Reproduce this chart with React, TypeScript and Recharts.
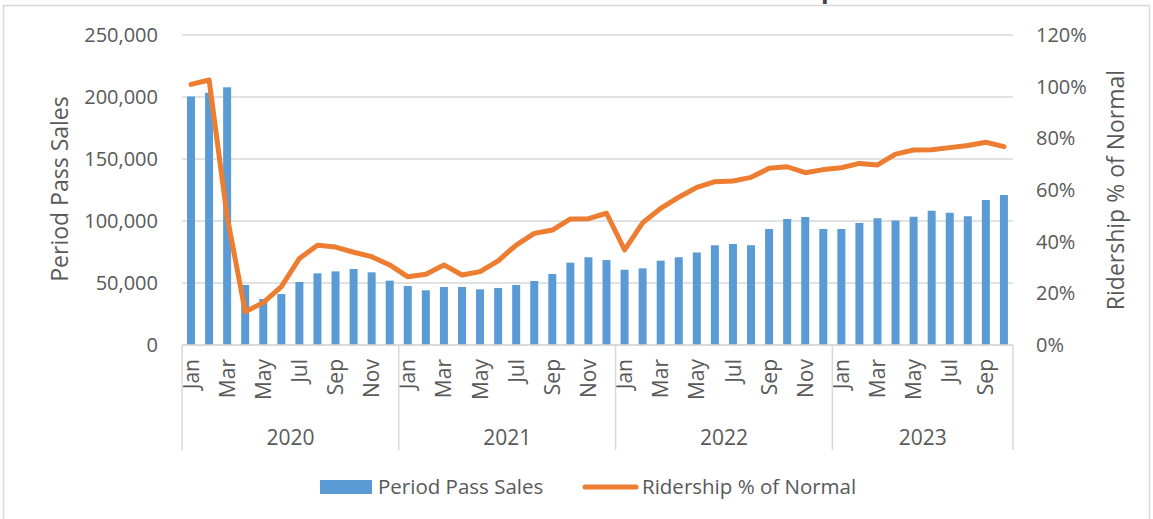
import React from "react"
import { Bar, CartesianGrid, ComposedChart, Line, XAxis, YAxis } from "recharts"

const years = [2020, 2021, 2022, 2023]
const monthsPerYear = [12, 12, 12, 10]
const monthNames = ["Jan", "Feb", "Mar", "Apr", "May", "Jun", "Jul", "Aug", "Sep", "Oct", "Nov", "Dec"]

const periodPassSales = [
  200500, 203500, 207800, 48400, 37100, 41100, 50800, 57800, 59400, 61300, 58600, 51900,
  47600, 44100, 46800, 46800, 44900, 46000, 48400, 51600, 57300, 66400, 70700, 68500,
  60700, 61800, 68000, 70700, 74500, 80400, 81500, 80400, 93500, 101600, 103200, 93500,
  93500, 98400, 102200, 100500, 103500, 108300, 106700, 103800, 116900, 121000,
]

const ridershipPct = [
  100.9, 102.6, 49.7, 12.9, 16.4, 22.6, 33.5, 38.6, 37.9, 35.9, 34.2, 31.0,
  26.4, 27.4, 31.0, 27.1, 28.4, 32.6, 38.7, 43.2, 44.5, 48.8, 48.9, 51.0,
  36.8, 47.3, 52.9, 57.2, 61.0, 63.2, 63.5, 64.9, 68.4, 69.0, 66.7, 67.9,
  68.6, 70.3, 69.7, 73.9, 75.5, 75.6, 76.4, 77.2, 78.5, 76.8,
]

const salesTicks = [0, 50000, 100000, 150000, 200000, 250000]
const pctTicks = [0, 20, 40, 60, 80, 100, 120]

// build the month/year rows
const monthLabels: string[] = []
const yearOfMonth: number[] = []
const yearStart: number[] = []
years.forEach((y, yi) => {
  yearStart.push(monthLabels.length)
  for (let m = 0; m < monthsPerYear[yi]; m++) {
    monthLabels.push(monthNames[m])
    yearOfMonth.push(yi)
  }
})

const data = periodPassSales.map((v, i) => ({
  key: `${years[yearOfMonth[i]]}-${monthLabels[i]}`,
  sales: v,
  ridership: ridershipPct[i],
}))

const W = 1153
const H = 519
const PLOT_LEFT = 182
const PLOT_RIGHT = 1013
const PLOT_TOP = 35
const PLOT_BOTTOM = 345
const BAND = (PLOT_RIGHT - PLOT_LEFT) / data.length

const TEXT = "#595959"
const GRID = "#D9D9D9"
const FONT = "'Open Sans', sans-serif"

const fmt = (v: number) => v.toLocaleString("en-US")

const CategoryTick = (props: any) => {
  const { x, index } = props
  const yi = yearOfMonth[index]
  const first = yearStart[yi] === index
  const last = index === data.length - 1
  const ty = PLOT_BOTTOM + 14
  return (
    <g>
      {index % 2 === 0 && (
        <text
          x={x}
          y={ty}
          dy="0.36em"
          transform={`rotate(-90 ${x} ${ty})`}
          textAnchor="end"
          fill={TEXT}
          fontSize={21}
          fontFamily={FONT}
        >
          {monthLabels[index]}
        </text>
      )}
      {first && (
        <>
          <line x1={x - BAND / 2} x2={x - BAND / 2} y1={PLOT_BOTTOM} y2={450} stroke={GRID} strokeWidth={1.5} />
          <text
            x={x - BAND / 2 + (monthsPerYear[yi] * BAND) / 2}
            y={445}
            textAnchor="middle"
            fill={TEXT}
            fontSize={21}
            fontFamily={FONT}
          >
            {years[yi]}
          </text>
        </>
      )}
      {last && <line x1={x + BAND / 2} x2={x + BAND / 2} y1={PLOT_BOTTOM} y2={450} stroke={GRID} strokeWidth={1.5} />}
    </g>
  )
}

export default function App() {
  return (
    <div style={{ position: "absolute", left: 0, top: 0, width: W, height: H, background: "#fff", overflow: "hidden" }}>
      <ComposedChart
        width={W}
        height={H}
        data={data}
        margin={{ top: PLOT_TOP, right: 0, left: 0, bottom: H - PLOT_BOTTOM - 120 }}
      >
        <CartesianGrid vertical={false} stroke={GRID} strokeWidth={1.5} yAxisId="sales" />
        <XAxis
          dataKey="key"
          xAxisId="month"
          interval={0}
          height={120}
          axisLine={{ stroke: GRID, strokeWidth: 1.5 }}
          tickLine={false}
          tick={<CategoryTick />}
        />
        <YAxis
          yAxisId="sales"
          orientation="left"
          width={PLOT_LEFT}
          domain={[0, 250000]}
          ticks={salesTicks}
          tickFormatter={fmt}
          axisLine={false}
          tickLine={false}
          tickSize={0}
          tickMargin={24}
          tick={{ fill: TEXT, fontSize: 20, fontFamily: FONT }}
        />
        <YAxis
          yAxisId="pct"
          orientation="right"
          width={W - PLOT_RIGHT}
          domain={[0, 120]}
          ticks={pctTicks}
          tickFormatter={(v: number) => `${v}%`}
          axisLine={false}
          tickLine={false}
          tickSize={0}
          tickMargin={23}
          tick={{ fill: TEXT, fontSize: 20, fontFamily: FONT, textAnchor: "start" }}
        />
        <Bar dataKey="sales" xAxisId="month" yAxisId="sales" fill="#5B9BD5" barSize={8} isAnimationActive={false} />
        <Line
          dataKey="ridership"
          xAxisId="month"
          yAxisId="pct"
          type="linear"
          stroke="#ED7D31"
          strokeWidth={5}
          strokeLinejoin="round"
          strokeLinecap="round"
          dot={false}
          activeDot={false}
          isAnimationActive={false}
        />
      </ComposedChart>
      <svg width={W} height={H} style={{ position: "absolute", left: 0, top: 0, pointerEvents: "none" }}>
        <rect x={3.5} y={5.5} width={1146} height={H} fill="none" stroke={GRID} strokeWidth={1.5} />
        <text x={641} y={-2} textAnchor="middle" fontSize={25} fontWeight="bold" fill="#404040" fontFamily={FONT}>
          Period Pass Sales and Ridership
        </text>
        <text
          x={60}
          y={189}
          transform="rotate(-90 60 189)"
          textAnchor="middle"
          dy="0.35em"
          fill={TEXT}
          fontSize={23}
          fontFamily={FONT}
        >
          Period Pass Sales
        </text>
        <text
          x={1116}
          y={190}
          transform="rotate(-90 1116 190)"
          textAnchor="middle"
          dy="0.35em"
          fill={TEXT}
          fontSize={23}
          fontFamily={FONT}
        >
          Ridership % of Normal
        </text>
        <rect x={320} y={480} width={52} height={14} fill="#5B9BD5" />
        <text x={378} y={494} fill={TEXT} fontSize={20.5} fontFamily={FONT}>
          Period Pass Sales
        </text>
        <line x1={585} x2={636} y1={487} y2={487} stroke="#ED7D31" strokeWidth={5} strokeLinecap="round" />
        <text x={642} y={494} fill={TEXT} fontSize={20.5} fontFamily={FONT}>
          Ridership % of Normal
        </text>
      </svg>
    </div>
  )
}
